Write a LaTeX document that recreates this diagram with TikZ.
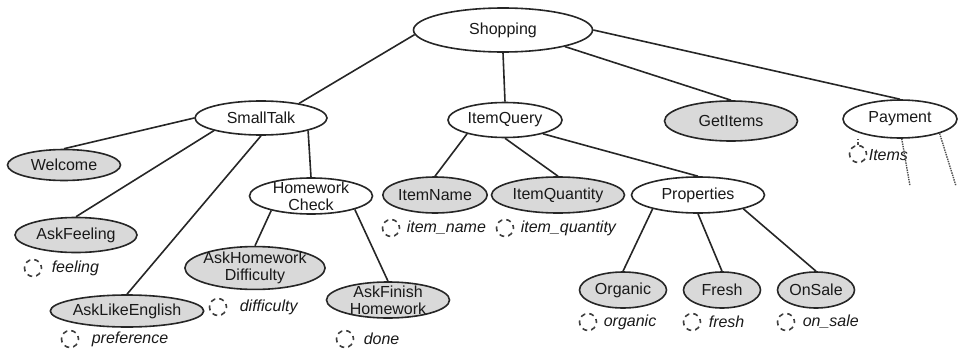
\documentclass[tikz,border=0pt]{standalone}
\usepackage{fontspec}
\setmainfont{Liberation Sans}
\usetikzlibrary{shapes.geometric}

\begin{document}
\begin{tikzpicture}[x=1pt,y=-1pt,color=black!85,every path/.append style={line width=1.6pt},
  goal/.style={ellipse,draw=black!85,fill=white,inner sep=0pt,minimum height=36pt,align=center,font=\fontsize{16}{17}\selectfont,text=black!90},
  leaf/.style={goal,fill=black!15},
  slot/.style={circle,draw=black!75,dash pattern=on 5pt off 4pt,dash phase=2pt,inner sep=0pt,minimum size=17pt,line width=1.6pt},
  slotname/.style={anchor=west,inner sep=0pt,font=\fontsize{16}{17}\selectfont\itshape,text=black!90}]
\useasboundingbox (0,0) rectangle (958,356);

\node[goal,minimum width=179pt,minimum height=44pt] (shopping) at (503,30) {Shopping};
\node[goal,minimum width=132pt,minimum height=34pt] (smalltalk) at (261,118) {SmallTalk};
\node[goal,minimum width=114pt,minimum height=35pt] (itemquery) at (505,120) {ItemQuery};
\node[leaf,minimum width=133pt,minimum height=40pt] (getitems) at (731,121) {GetItems};
\node[goal,minimum width=114pt,minimum height=38pt] (payment) at (900,119) {Payment};

\node[leaf,minimum width=113pt,minimum height=31pt] (welcome) at (64,165) {Welcome};
\node[leaf,minimum width=122pt,minimum height=35pt] (askfeeling) at (76,235) {AskFeeling};
\node[leaf,minimum width=147pt,minimum height=32pt] (asklikeenglish) at (127,311) {AskLikeEnglish};
\node[goal,minimum width=123pt,inner ysep=-3.3pt] (homeworkcheck) at (311,196) {Homework\\Check};
\node[leaf,minimum width=140pt,inner xsep=-2pt,inner ysep=-0.8pt] (askhwdifficulty) at (255,268) {AskHomework\\Difficulty};
\node[leaf,minimum width=123pt,inner ysep=-1.9pt] (askfinishhw) at (388,300) {AskFinish\\Homework};

\node[leaf,minimum width=104pt] (itemname) at (435,195) {ItemName};
\node[leaf,minimum width=133pt] (itemquantity) at (558,195) {ItemQuantity};
\node[goal,minimum width=133pt] (properties) at (698,195) {Properties};
\node[leaf,minimum width=87pt] (organic) at (623,290) {Organic};
\node[leaf,minimum width=77pt] (fresh) at (722,290) {Fresh};
\node[leaf,minimum width=77pt] (onsale) at (816,290) {OnSale};

% slots
\node[slot] (feelingslot) at (33,268) {};
\node[slotname] (feelingname) at (51,268) {feeling};
\node[slot] (preferenceslot) at (70,339) {};
\node[slotname] (preferencename) at (91,339) {preference};
\node[slot] (difficultyslot) at (218,307) {};
\node[slotname] (difficultyname) at (239,307) {difficulty};
\node[slot] (doneslot) at (345,339) {};
\node[slotname] (donename) at (363,339) {done};
\node[slot] (itemnameslot) at (391,228) {};
\node[slotname] (itemnamename) at (406,228) {item\_name};
\node[slot] (itemquantityslot) at (505,228) {};
\node[slotname] (itemquantityname) at (520,228) {item\_quantity};
\node[slot] (organicslot) at (588,322) {};
\node[slotname] (organicname) at (603,322) {organic};
\node[slot] (freshslot) at (692,322) {};
\node[slotname] (freshname) at (708,322) {fresh};
\node[slot] (onsaleslot) at (786,322) {};
\node[slotname] (onsalename) at (802,322) {on\_sale};
\node[slot] (itemsslot) at (858,154) {};
\node[slotname] (itemsname) at (868,155) {Items};

\draw (shopping.183) -- (smalltalk.21);
\draw (shopping.south) -- (itemquery.north);
\draw (shopping.-15) -- (getitems.north);
\draw (shopping.east) -- (payment.north);
\draw (smalltalk.west) -- (welcome.north);
\draw (smalltalk.195) -- (askfeeling.north);
\draw (smalltalk.south) -- (asklikeenglish.north);
\draw (smalltalk.-15) -- (homeworkcheck.north);
\draw (homeworkcheck.200) -- (askhwdifficulty.north);
\draw (homeworkcheck.-17) -- (askfinishhw.north);
\draw (itemquery.200) -- (itemname.north);
\draw (itemquery.south) -- (itemquantity.north);
\draw (itemquery.-20) -- (properties.north);
\draw (properties.197) -- (organic.north);
\draw (properties.south) -- (fresh.north);
\draw (properties.-17) -- (onsale.north);

\draw[black!70,line width=1.4pt,dash pattern=on 3pt off 2pt] (itemsslot.north) -- (itemsslot.north |- payment.south);
\coordinate (paymore1) at (910,186);
\coordinate (paymore2) at (956,186);
\draw[black!70,line width=1.4pt,densely dotted] (payment.-85) -- (paymore1);
\draw[black!70,line width=1.4pt,densely dotted] (payment.-20) -- (paymore2);
\end{tikzpicture}
\end{document}
